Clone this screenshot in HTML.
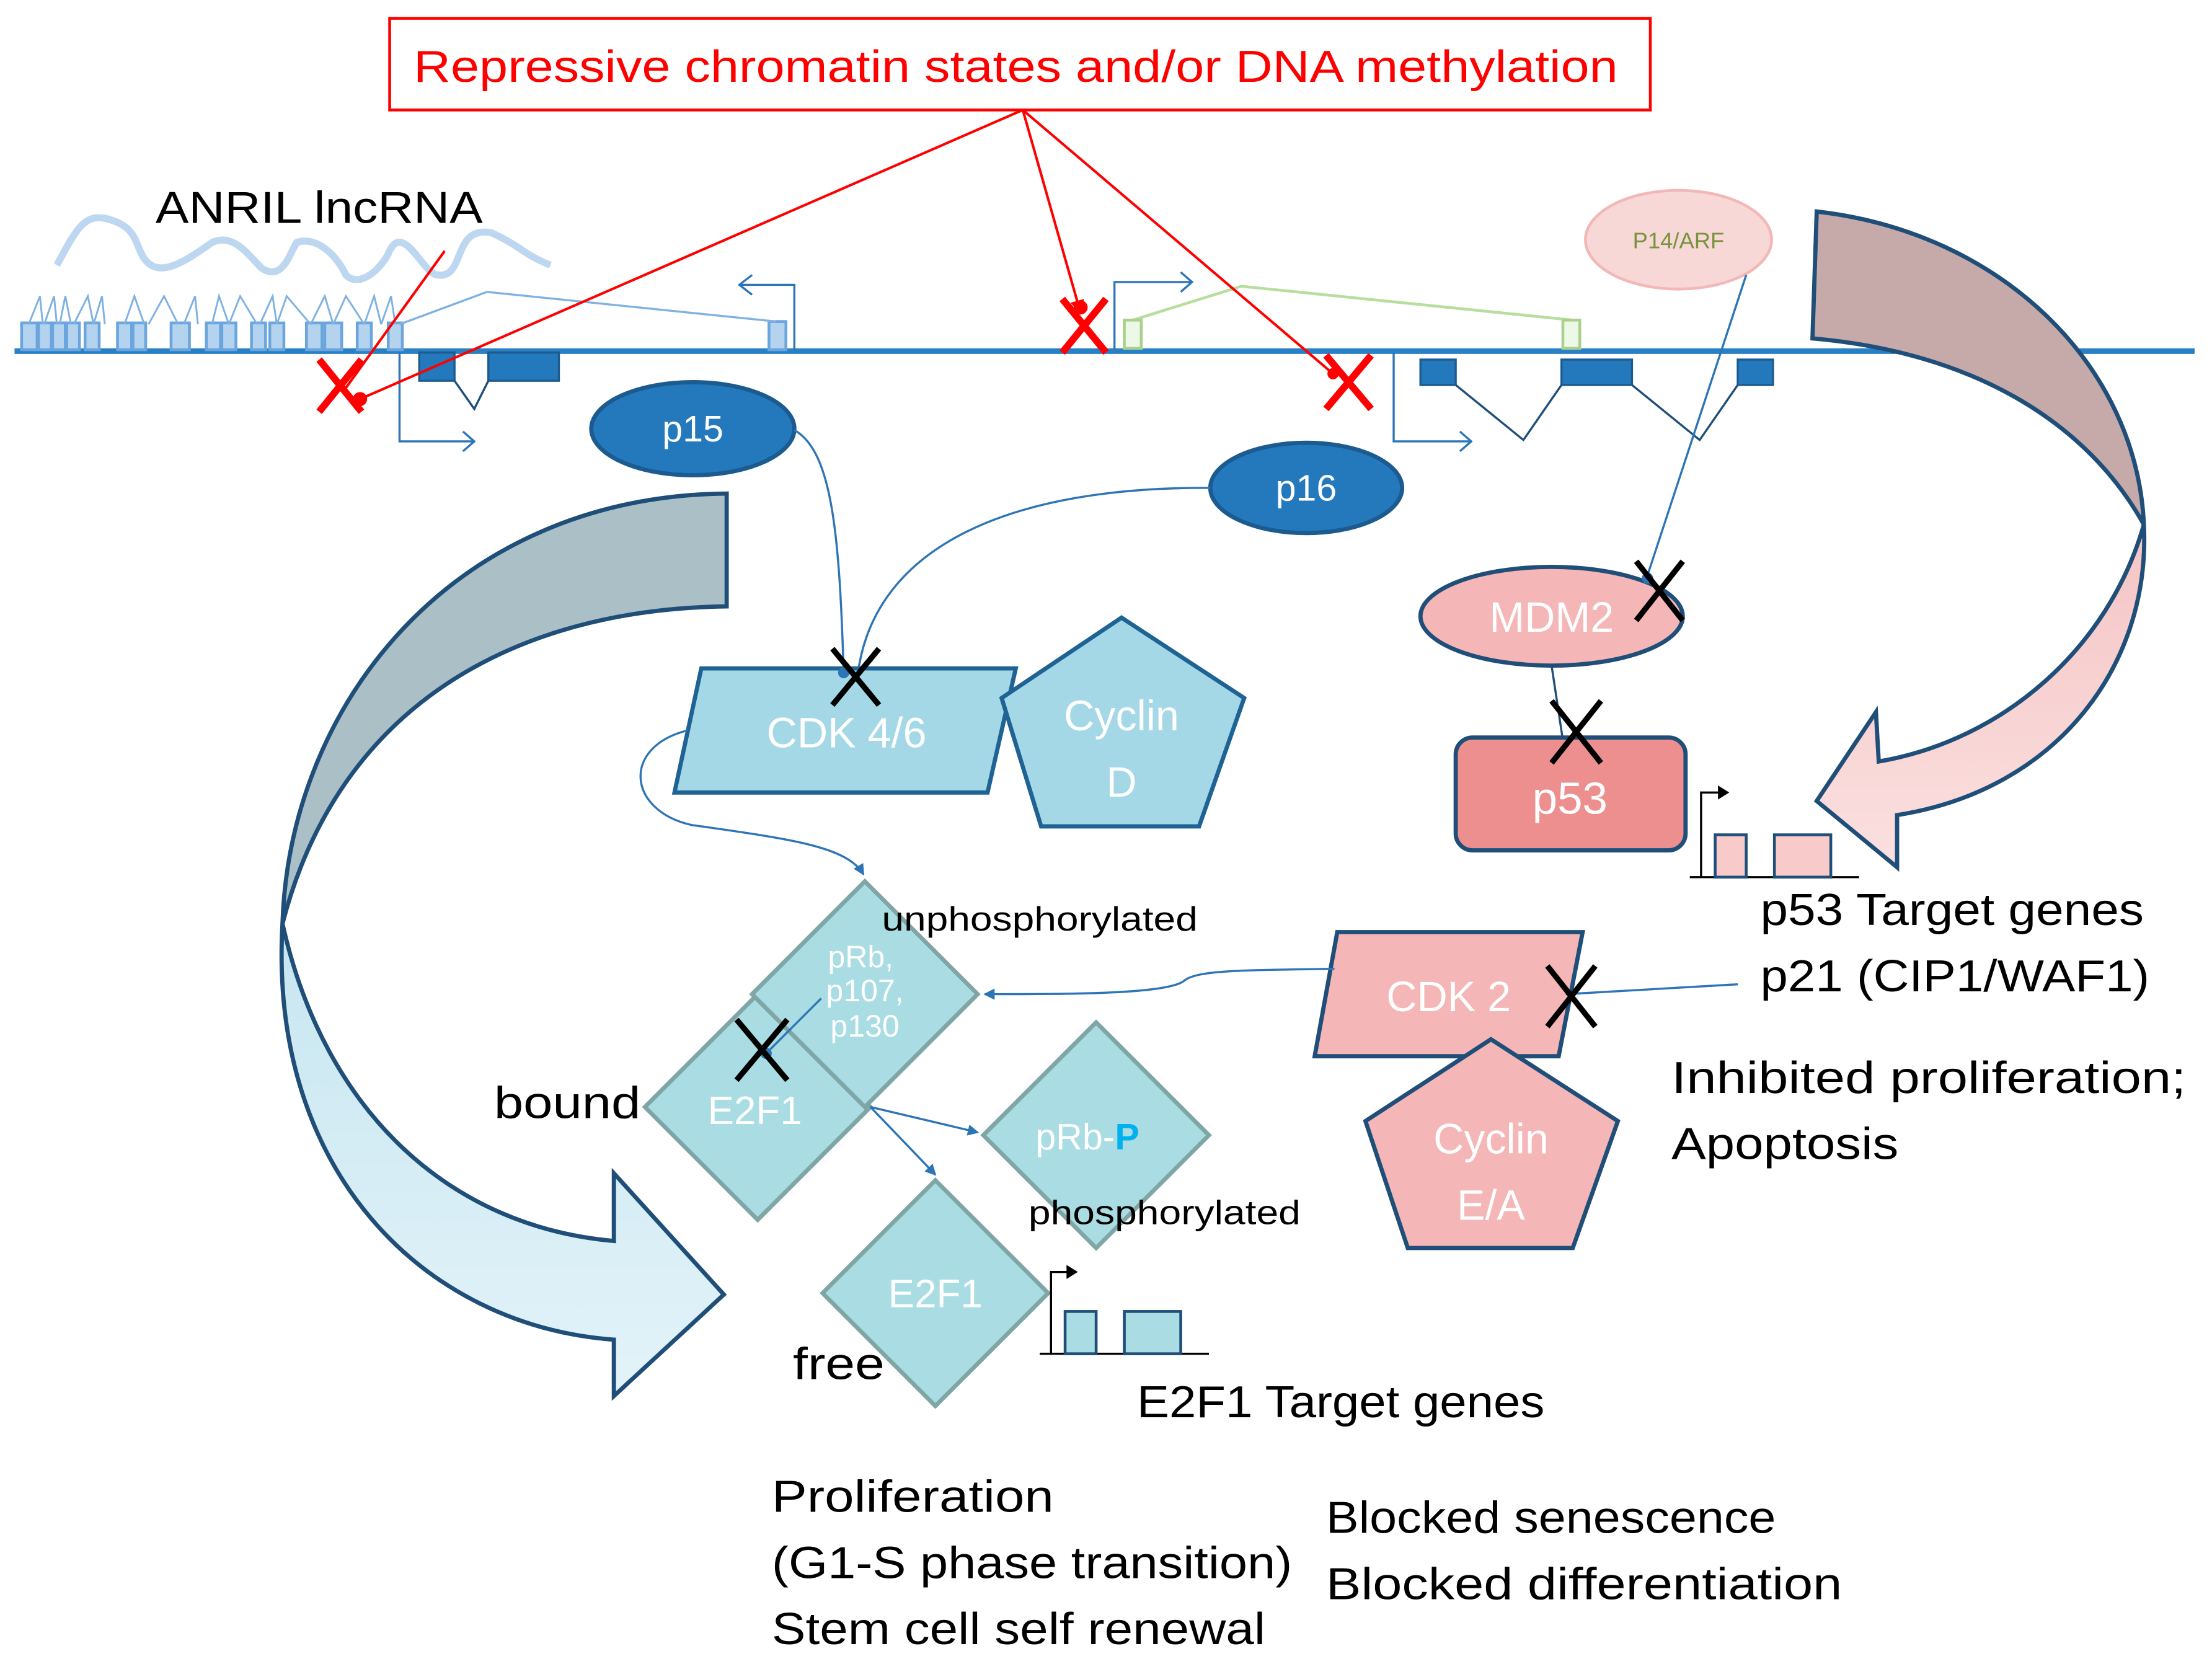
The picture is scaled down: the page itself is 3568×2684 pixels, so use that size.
<!DOCTYPE html>
<html><head><meta charset="utf-8"><style>
html,body{margin:0;padding:0;background:#fff}
svg{display:block}
text{font-family:"Liberation Sans","DejaVu Sans",sans-serif}
</style></head><body>
<svg width="3568" height="2684" viewBox="0 0 1568 1180" xmlns="http://www.w3.org/2000/svg">
<defs>
<marker id="ab" markerWidth="8" markerHeight="8" refX="7" refY="4" orient="auto" markerUnits="userSpaceOnUse"><path d="M0,0 L8,4 L0,8 z" fill="#2e75b6"/></marker>
<marker id="ar" markerWidth="10" markerHeight="10" refX="9" refY="5" orient="auto" markerUnits="userSpaceOnUse"><path d="M0,0 L10,5 L0,10 z" fill="#ff0000"/></marker>
<linearGradient id="lg" x1="0" y1="0" x2="0" y2="1"><stop offset="0" stop-color="#c7e6f0"/><stop offset="1" stop-color="#e3f3f9"/></linearGradient>
<linearGradient id="rg" x1="0" y1="0" x2="0" y2="1"><stop offset="0" stop-color="#f5c4c4"/><stop offset="1" stop-color="#fbe0e0"/></linearGradient>
</defs>

<rect x="276" y="13" width="894" height="65" fill="#fff" stroke="#ff0000" stroke-width="2"/>
<text x="293" y="58" font-size="32" fill="#ff0000" textLength="854" lengthAdjust="spacingAndGlyphs">Repressive chromatin states and/or DNA methylation</text>

<text x="110" y="158" font-size="32" fill="#000" textLength="232" lengthAdjust="spacingAndGlyphs">ANRIL  lncRNA</text>
<path d="M40,188 C55,160 60,152 75,155 C95,160 95,170 100,180 C110,200 130,186 150,172 C165,165 175,180 185,190 C200,200 205,180 210,172 C220,168 235,175 245,195 C255,205 270,190 275,180 C285,155 300,195 310,195 C330,198 320,160 348,165 C370,175 370,180 390,188" fill="none" stroke="#bcd7ef" stroke-width="5"/>

<line x1="10" y1="249" x2="1556" y2="249" stroke="#2980c4" stroke-width="4"/>

<g fill="#b4d3ef" stroke="#6aa5dd" stroke-width="2">
<rect x="15" y="229" width="11" height="19"/><rect x="27" y="229" width="9" height="19"/><rect x="37" y="229" width="9" height="19"/><rect x="47" y="229" width="9" height="19"/><rect x="60" y="229" width="10" height="19"/>
<rect x="83" y="229" width="10" height="19"/><rect x="94" y="229" width="9" height="19"/><rect x="121" y="229" width="13" height="19"/><rect x="146" y="229" width="10" height="19"/><rect x="157" y="229" width="10" height="19"/>
<rect x="178" y="229" width="10" height="19"/><rect x="191" y="229" width="10" height="19"/><rect x="217" y="229" width="11" height="19"/><rect x="230" y="229" width="12" height="19"/><rect x="253" y="229" width="10" height="19"/><rect x="275" y="229" width="10" height="19"/>
<rect x="545" y="228" width="12" height="20"/>
</g>
<path d="M20,230 L28,210 L30,230 M31,230 L38,210 L40,230 M42,230 L46,210 L50,230 M52,230 L62,210 L66,230 M66,230 L72,210 L74,230 M88,230 L95,210 L102,230 M105,230 L116,210 L126,230 M130,230 L138,210 L140,230 M150,230 L155,210 L162,230 M162,230 L170,210 L182,230 M184,230 L193,210 L196,230 M196,230 L203,210 L220,230 M220,230 L230,210 L236,230 M236,230 L245,210 L258,230 M258,230 L265,210 L270,230 M270,230 L277,210 L280,230" fill="none" stroke="#7fb2e2" stroke-width="1.3"/>
<path d="M283,230 L345,207 L550,228" fill="none" stroke="#7fb2e2" stroke-width="1.5"/>
<path d="M563,248 L563,202 L524,202 M533,195 L524,202 L533,209" fill="none" stroke="#2e75b6" stroke-width="1.5"/>

<rect x="297" y="250" width="25" height="20" fill="#2479bd" stroke="#1c5b8f" stroke-width="1.5"/>
<rect x="346" y="250" width="50" height="20" fill="#2479bd" stroke="#1c5b8f" stroke-width="1.5"/>
<path d="M322,270 L336,290 L346,270" fill="none" stroke="#1f4e79" stroke-width="1.5"/>
<path d="M283,250 L283,313 L336,313 M328,306 L336,313 L328,320" fill="none" stroke="#2e75b6" stroke-width="1.5"/>

<path d="M790,248 L790,200 L845,200 M837,193 L845,200 L837,207" fill="none" stroke="#2e75b6" stroke-width="1.5"/>
<path d="M803,227 L880,203 L1115,227" fill="none" stroke="#b8de9e" stroke-width="2"/>
<rect x="797" y="227" width="12" height="20" fill="#eef8e6" stroke="#a9d08e" stroke-width="2"/>
<rect x="1108" y="227" width="12" height="20" fill="#eef8e6" stroke="#a9d08e" stroke-width="2"/>

<rect x="1007" y="255" width="25" height="18" fill="#2479bd" stroke="#1c5b8f" stroke-width="1.5"/>
<rect x="1107" y="255" width="50" height="18" fill="#2479bd" stroke="#1c5b8f" stroke-width="1.5"/>
<rect x="1232" y="255" width="25" height="18" fill="#2479bd" stroke="#1c5b8f" stroke-width="1.5"/>
<path d="M1032,273 L1080,312 L1107,273 M1157,273 L1205,312 L1232,273" fill="none" stroke="#1f4e79" stroke-width="1.5"/>
<path d="M988,250 L988,313 L1043,313 M1035,306 L1043,313 L1035,320" fill="none" stroke="#2e75b6" stroke-width="1.5"/>

<line x1="725" y1="78" x2="255" y2="283" stroke="#ff0000" stroke-width="1.8"/>
<line x1="315" y1="178" x2="245" y2="275" stroke="#ff0000" stroke-width="1.8"/>
<line x1="725" y1="78" x2="766" y2="222" stroke="#ff0000" stroke-width="1.8" marker-end="url(#ar)"/>
<line x1="725" y1="78" x2="945" y2="265" stroke="#ff0000" stroke-width="1.8"/>
<circle cx="255" cy="283" r="5" fill="#ff0000"/>
<circle cx="766" cy="218" r="5" fill="#ff0000"/>
<circle cx="945" cy="265" r="4" fill="#ff0000"/>
<g stroke="#ff0000" stroke-width="5">
<line x1="226" y1="255" x2="256" y2="292"/><line x1="256" y1="255" x2="226" y2="292"/>
<line x1="753" y1="212" x2="784" y2="250"/><line x1="784" y1="212" x2="753" y2="250"/>
<line x1="940" y1="252" x2="972" y2="290"/><line x1="972" y1="252" x2="940" y2="290"/>
</g>

<ellipse cx="1190" cy="170" rx="66" ry="35" fill="#f8d7d7" stroke="#f2b8b8" stroke-width="2"/>
<text x="1190" y="176" font-size="16" fill="#77933c" text-anchor="middle">P14/ARF</text>
<line x1="1238" y1="195" x2="1168" y2="408" stroke="#2e75b6" stroke-width="1.5"/>

<path d="M1288,150 C1420,165 1515,260 1520,372 C1480,300 1400,250 1285,240 Z" fill="#c6a9a9" stroke="#1f4e79" stroke-width="3"/>
<path d="M1520,372 C1525,470 1460,560 1345,578 L1345,615 L1288,568 L1330,505 L1332,540 C1420,525 1495,460 1520,372 Z" fill="url(#rg)" stroke="#1f4e79" stroke-width="3"/>

<path d="M515,350 L515,430 C365,432 240,500 200,655 C205,500 320,352 515,350 Z" fill="#abbfc6" stroke="#1f4e79" stroke-width="3"/>
<path d="M200,655 C230,790 320,870 435,880 L435,832 L513,918 L435,990 L435,950 C300,940 190,830 200,655 Z" fill="url(#lg)" stroke="#1f4e79" stroke-width="3"/>

<ellipse cx="491" cy="304" rx="72" ry="33" fill="#2479bd" stroke="#1c5b8f" stroke-width="3"/>
<text x="491" y="313" font-size="26" fill="#fff" text-anchor="middle">p15</text>
<ellipse cx="926" cy="346" rx="68" ry="32" fill="#2479bd" stroke="#1c5b8f" stroke-width="3"/>
<text x="926" y="355" font-size="26" fill="#fff" text-anchor="middle">p16</text>
<path d="M563,305 C590,320 595,380 598,478" fill="none" stroke="#2e75b6" stroke-width="1.5"/>
<path d="M858,346 C720,345 620,385 608,478" fill="none" stroke="#2e75b6" stroke-width="1.5"/>

<polygon points="497,474 720,474 700,562 478,562" fill="#a4d8e6" stroke="#1f6395" stroke-width="3"/>
<text x="600" y="530" font-size="30" fill="#fff" text-anchor="middle">CDK 4/6</text>
<polygon points="795,438 882,495 850,586 738,586 710,495" fill="#a4d8e6" stroke="#1f6395" stroke-width="3"/>
<text x="795" y="518" font-size="30" fill="#fff" text-anchor="middle">Cyclin</text>
<text x="795" y="565" font-size="30" fill="#fff" text-anchor="middle">D</text>
<circle cx="598" cy="477" r="4" fill="#2e75b6"/>
<g stroke="#000" stroke-width="4"><line x1="590" y1="460" x2="623" y2="500"/><line x1="623" y1="460" x2="590" y2="500"/></g>
<path d="M487,518 C440,530 445,575 490,585 C560,595 600,600 612,620" fill="none" stroke="#2e75b6" stroke-width="1.5" marker-end="url(#ab)"/>

<ellipse cx="1100" cy="437" rx="93" ry="35" fill="#f4b6b6" stroke="#1f4e79" stroke-width="3"/>
<text x="1100" y="448" font-size="30" fill="#fff" text-anchor="middle">MDM2</text>
<circle cx="1168" cy="410" r="4" fill="#2e75b6"/>
<g stroke="#000" stroke-width="4"><line x1="1160" y1="398" x2="1193" y2="440"/><line x1="1193" y1="398" x2="1160" y2="440"/></g>
<line x1="1100" y1="472" x2="1108" y2="525" stroke="#1f4e79" stroke-width="1.5"/>
<rect x="1032" y="523" width="163" height="80" rx="12" fill="#ee8f8f" stroke="#1f4e79" stroke-width="3"/>
<text x="1113" y="577" font-size="32" fill="#fff" text-anchor="middle">p53</text>
<g stroke="#000" stroke-width="4"><line x1="1100" y1="497" x2="1135" y2="541"/><line x1="1135" y1="497" x2="1100" y2="541"/></g>

<path d="M1198,622 L1318,622 M1206,622 L1206,562 L1222,562" fill="none" stroke="#000" stroke-width="1.5"/>
<path d="M1218,557 L1226,562 L1218,567 z" fill="#000"/>
<rect x="1216" y="592" width="22" height="30" fill="#f8caca" stroke="#1f4e79" stroke-width="2"/>
<rect x="1258" y="592" width="40" height="30" fill="#f8caca" stroke="#1f4e79" stroke-width="2"/>
<text x="1248" y="656" font-size="32" fill="#000" textLength="272" lengthAdjust="spacingAndGlyphs">p53 Target genes</text>
<text x="1248" y="703" font-size="32" fill="#000" textLength="276" lengthAdjust="spacingAndGlyphs">p21 (CIP1/WAF1)</text>
<text x="1185" y="775" font-size="32" fill="#000" textLength="365" lengthAdjust="spacingAndGlyphs">Inhibited proliferation;</text>
<text x="1185" y="822" font-size="32" fill="#000" textLength="161" lengthAdjust="spacingAndGlyphs">Apoptosis</text>

<polygon points="948,661 1122,661 1105,749 932,749" fill="#f4b6b6" stroke="#1f4e79" stroke-width="3"/>
<text x="1027" y="717" font-size="30" fill="#fff" text-anchor="middle">CDK 2</text>
<polygon points="1057,737 1147,795 1115,885 998,885 968,795" fill="#f4b6b6" stroke="#1f4e79" stroke-width="3"/>
<text x="1057" y="818" font-size="30" fill="#fff" text-anchor="middle">Cyclin</text>
<text x="1057" y="865" font-size="30" fill="#fff" text-anchor="middle">E/A</text>
<line x1="1232" y1="698" x2="1110" y2="705" stroke="#2e75b6" stroke-width="1.5"/>
<g stroke="#000" stroke-width="4"><line x1="1097" y1="685" x2="1131" y2="728"/><line x1="1131" y1="685" x2="1097" y2="728"/></g>
<path d="M946,687 C880,688 850,688 840,695 C830,705 760,705 698,705" fill="none" stroke="#2e75b6" stroke-width="1.5" marker-end="url(#ab)"/>

<g fill="#a9dde3" stroke="#7fa5a5" stroke-width="3">
<polygon points="537,705 617,785 537,865 457,785"/>
<polygon points="613,625 693,705 613,785 533,705"/>
<polygon points="777,725 857,805 777,885 697,805"/>
<polygon points="663,837 743,917 663,997 583,917"/>
</g>
<text x="610" y="686" font-size="22" fill="#fff" text-anchor="middle">pRb,</text>
<text x="613" y="710" font-size="22" fill="#fff" text-anchor="middle">p107,</text>
<text x="613" y="735" font-size="22" fill="#fff" text-anchor="middle">p130</text>
<text x="535" y="797" font-size="28" fill="#fff" text-anchor="middle">E2F1</text>
<text x="734" y="815" font-size="26" fill="#fff">pRb-<tspan fill="#00b0f0" font-weight="bold">P</tspan></text>
<text x="663" y="927" font-size="28" fill="#fff" text-anchor="middle">E2F1</text>
<line x1="582" y1="708" x2="543" y2="747" stroke="#2e75b6" stroke-width="1.5"/>
<circle cx="543" cy="747" r="4" fill="#2e75b6"/>
<g stroke="#000" stroke-width="4"><line x1="522" y1="723" x2="558" y2="766"/><line x1="558" y1="723" x2="522" y2="766"/></g>
<line x1="617" y1="785" x2="693" y2="803" stroke="#2e75b6" stroke-width="1.5" marker-end="url(#ab)"/>
<line x1="617" y1="785" x2="663" y2="833" stroke="#2e75b6" stroke-width="1.5" marker-end="url(#ab)"/>

<text x="625" y="660" font-size="24" fill="#000" textLength="224" lengthAdjust="spacingAndGlyphs">unphosphorylated</text>
<text x="350" y="793" font-size="32" fill="#000" textLength="104" lengthAdjust="spacingAndGlyphs">bound</text>
<text x="729" y="868" font-size="24" fill="#000" textLength="193" lengthAdjust="spacingAndGlyphs">phosphorylated</text>
<text x="562" y="978" font-size="32" fill="#000" textLength="65" lengthAdjust="spacingAndGlyphs">free</text>

<path d="M737,960 L857,960 M745,960 L745,902 L760,902" fill="none" stroke="#000" stroke-width="1.5"/>
<path d="M756,897 L764,902 L756,907 z" fill="#000"/>
<rect x="755" y="930" width="22" height="30" fill="#a9dde3" stroke="#1f4e79" stroke-width="2"/>
<rect x="797" y="930" width="40" height="30" fill="#a9dde3" stroke="#1f4e79" stroke-width="2"/>
<text x="806" y="1005" font-size="32" fill="#000" textLength="289" lengthAdjust="spacingAndGlyphs">E2F1 Target genes</text>

<text x="547" y="1072" font-size="32" fill="#000" textLength="200" lengthAdjust="spacingAndGlyphs">Proliferation</text>
<text x="547" y="1119" font-size="32" fill="#000" textLength="369" lengthAdjust="spacingAndGlyphs">(G1-S phase transition)</text>
<text x="547" y="1166" font-size="32" fill="#000" textLength="350" lengthAdjust="spacingAndGlyphs">Stem cell self renewal</text>
<text x="940" y="1087" font-size="32" fill="#000" textLength="319" lengthAdjust="spacingAndGlyphs">Blocked senescence</text>
<text x="940" y="1134" font-size="32" fill="#000" textLength="366" lengthAdjust="spacingAndGlyphs">Blocked differentiation</text>
</svg>
</body></html>
